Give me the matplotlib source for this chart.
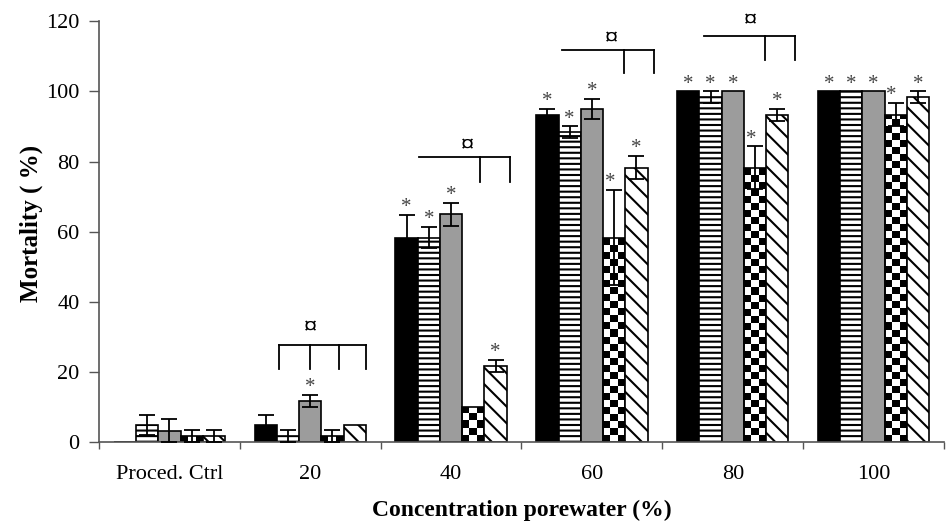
import numpy as np
import matplotlib
matplotlib.use("Agg")
import matplotlib.pyplot as plt

plt.rcParams.update({
    "font.family": ["Liberation Serif", "DejaVu Serif"],
    "hatch.linewidth": 1.5,
    "hatch.color": "black",
})

# Mean mortality (%) and SD per treatment series, by porewater concentration
groups = ["Proced. Ctrl", "20", "40", "60", "80", "100"]

mort_solid = [0, 5.0, 58.3, 93.3, 100, 100]
err_solid = [0, 2.9, 6.4, 1.7, 0, 0]
mort_hlines = [5.0, 1.7, 58.3, 88.3, 98.3, 100]
err_hlines = [2.9, 1.7, 3.0, 1.7, 1.7, 0]
mort_dots = [3.3, 11.7, 65.0, 95.0, 100, 100]
err_dots = [3.3, 1.7, 3.3, 2.9, 0, 0]
mort_checks = [1.7, 1.7, 10.0, 58.3, 78.3, 93.3]
err_checks = [1.7, 1.7, 0, 13.6, 6.0, 3.3]
mort_diag = [1.7, 5.0, 21.7, 78.3, 93.3, 98.3]
err_diag = [1.7, 0, 1.7, 3.3, 1.7, 1.7]

# significant vs. control (*)
sig_solid = [0, 0, 1, 1, 1, 1]
sig_hlines = [0, 0, 1, 1, 1, 1]
sig_dots = [0, 1, 1, 1, 1, 1]
sig_checks = [0, 0, 0, 1, 1, 1]
sig_diag = [0, 0, 1, 1, 1, 1]

# difference between treatments (¤): group index, bar level, leg level, leg offsets
bracket_group = [1, 2, 3, 4]
bracket_top = [27.7, 81.4, 111.8, 115.8]
bracket_low = [20.8, 74.1, 105.1, 108.9]
bracket_left = [-0.225, -0.226, -0.209, -0.206]
bracket_legs = [[-0.225, 0.0, 0.207, 0.398], [0.206, 0.418], [0.227, 0.440], [0.232, 0.444]]
bracket_mark_dx = [0.0, 0.12, 0.14, 0.126]
bracket_mark_y = [32.5, 84.6, 115.0, 120.0]

series = [
    dict(y=mort_solid, e=err_solid, s=sig_solid, fc="black", hatch=None),
    dict(y=mort_hlines, e=err_hlines, s=sig_hlines, fc="white", hatch="---"),
    dict(y=mort_dots, e=err_dots, s=sig_dots, fc="#9c9c9c", hatch=None),
    dict(y=mort_checks, e=err_checks, s=sig_checks, fc="none", hatch="checker"),
    dict(y=mort_diag, e=err_diag, s=sig_diag, fc="white", hatch="\\\\"),
]

fig = plt.figure(figsize=(9.48, 5.29), dpi=100)
ax = fig.add_axes([0.1044, 0.1639, 0.8914, 0.7961])

x = np.arange(len(groups))
width = 0.158
sq_w, sq_h = 0.05, 2.0


def checker_fill(bar):
    x0, w, h = bar.get_x(), bar.get_width(), bar.get_height()
    if h <= 0:
        return
    nx = int(np.ceil(w / sq_w))
    ny = int(np.ceil(h / sq_h))
    grid = np.add.outer(np.arange(ny), np.arange(nx)) % 2
    im = ax.imshow(grid, cmap="gray", vmin=0, vmax=1, origin="lower",
                   extent=(x0, x0 + nx * sq_w, 0, ny * sq_h),
                   interpolation="nearest", aspect="auto", zorder=1.9)
    im.set_clip_path(bar)


for i, s in enumerate(series):
    xs = x + (i - 2) * width
    hatch = s["hatch"] if s["hatch"] != "checker" else None
    bars = ax.bar(xs, s["y"], width, color=s["fc"], edgecolor="black",
                  linewidth=1.2, hatch=hatch, zorder=2)
    if s["hatch"] == "checker":
        for b in bars:
            checker_fill(b)
    e = np.array(s["e"], dtype=float)
    m = e > 0
    ax.errorbar(xs[m], np.array(s["y"])[m], yerr=e[m], fmt="none",
                ecolor="black", elinewidth=1.3, capsize=6, capthick=1.3, zorder=3)
    dx = -0.03 if s["hatch"] == "checker" else 0.0
    for xi, yi, ei, flag in zip(xs, s["y"], s["e"], s["s"]):
        if flag:
            ax.text(xi + dx, yi + ei + 0.8, "*", ha="center", va="baseline",
                    fontsize=15, color="#444444", zorder=4)

# brackets between treatments
for g, yt, yl, xl, legs, mdx, my in zip(bracket_group, bracket_top, bracket_low,
                                          bracket_left, bracket_legs,
                                          bracket_mark_dx, bracket_mark_y):
    ax.plot([g + xl, g + legs[-1]], [yt, yt], color="black", lw=1.3,
            clip_on=False, zorder=4)
    for lg in legs:
        ax.plot([g + lg, g + lg], [yt, yl], color="black", lw=1.3,
                clip_on=False, zorder=4)
    ax.text(g + mdx, my, "¤", ha="center", va="center", fontsize=19,
            fontweight="bold", clip_on=False, zorder=4)

ax.set_xlim(-0.5, len(groups) - 0.5)
ax.set_ylim(0, 120)
ax.set_yticks(range(0, 121, 20))
ax.set_xticks(np.arange(-0.5, len(groups), 1.0))
ax.set_xticklabels([])
ax.set_xticks(x, minor=True)
ax.set_xticklabels(groups, minor=True)

ax.tick_params(axis="y", direction="out", length=7, width=1, labelsize=16,
               colors="#555555", labelcolor="black", pad=7)
ax.tick_params(axis="x", which="major", direction="out", length=5, width=1,
               colors="#555555")
ax.tick_params(axis="x", which="minor", length=0, labelsize=16, pad=16)

for side in ("top", "right"):
    ax.spines[side].set_visible(False)
for side in ("left", "bottom"):
    ax.spines[side].set_color("#555555")
    ax.spines[side].set_linewidth(1.2)

ax.set_ylabel("Mortality ( %)", fontsize=18, fontweight="bold")
ax.yaxis.set_label_coords(-0.066, 0.52)
ax.set_xlabel("Concentration porewater (%)", fontsize=17, fontweight="bold",
              labelpad=12)

fig.savefig("out.png", dpi=100, facecolor="white")
